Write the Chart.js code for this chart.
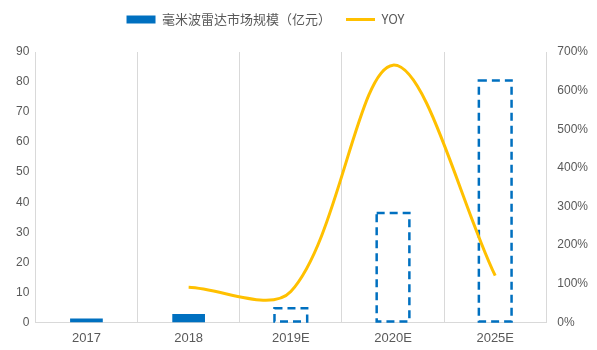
<!DOCTYPE html>
<html>
<head>
<meta charset="utf-8">
<script src="https://cdn.jsdelivr.net/npm/chart.js@4/dist/chart.umd.min.js"></script>
<style>
  html, body { margin: 0; padding: 0; background: #fff; }
  #wrap { width: 597px; height: 350px; }
</style>
</head>
<body>
<div id="wrap"><canvas id="radarChart"></canvas></div>
<script>
// Data
const years = ['2017', '2018', '2019E', '2020E', '2025E'];
const marketSize = [1.3, 2.8, 4.7, 36.4, 80.5];        // 亿元
const yoy = [null, 91, 80, 666, 121];                    // %
const estimated = [false, false, true, true, true];     // dashed bars

const BLUE = '#0070C0';
const GOLD = '#FFC000';
const TEXT = '#595959';
const GRID = '#d9d9d9';
const NUM_FONT = '"Liberation Sans", Arial, sans-serif';

// Estimated bars get a dashed outline instead of a fill
const dashedBars = {
  id: 'dashedBars',
  afterDatasetDraw(chart, args) {
    if (args.index !== 0) return;
    const ctx = chart.ctx;
    const meta = chart.getDatasetMeta(0);
    ctx.save();
    ctx.strokeStyle = BLUE;
    ctx.lineWidth = 2.5;
    ctx.setLineDash([8, 5]);
    meta.data.forEach((bar, i) => {
      if (!estimated[i]) return;
      const p = bar.getProps(['x', 'y', 'base', 'width'], true);
      const l = p.x - p.width / 2;
      ctx.strokeRect(l, p.y, p.width, p.base - p.y - 1);
    });
    ctx.restore();
  }
};

// Legend: extra room below it, and shifted a bit left of centre
const legendSpacing = {
  id: 'legendSpacing',
  beforeInit(chart) {
    const fit = chart.legend.fit;
    chart.legend.fit = function () {
      fit.bind(chart.legend)();
      this.height += 16;
    };
  },
  afterLayout(chart) {
    chart.legend.left -= 39;
    chart.legend.right -= 39;
  }
};

const ctx = document.getElementById('radarChart').getContext('2d');
new Chart(ctx, {
  data: {
    labels: years,
    datasets: [
      {
        type: 'bar',
        label: '毫米波雷达市场规模（亿元）',
        data: marketSize,
        yAxisID: 'y',
        backgroundColor: estimated.map(e => e ? 'rgba(255,255,255,0)' : BLUE),
        borderWidth: 0,
        barPercentage: 0.32,
        categoryPercentage: 1,
        order: 2
      },
      {
        type: 'line',
        label: 'YOY',
        data: yoy,
        yAxisID: 'y1',
        borderColor: GOLD,
        borderWidth: 3,
        pointRadius: 0,
        tension: 0.33,
        fill: false,
        order: 1
      }
    ]
  },
  options: {
    responsive: true,
    maintainAspectRatio: false,
    animation: false,
    layout: { padding: { top: -2, left: 10, right: -2, bottom: -4 } },
    plugins: {
      tooltip: { enabled: false },
      legend: {
        position: 'top',
        labels: {
          color: TEXT,
          font: { size: 13, family: '"Noto Sans CJK SC", "Liberation Sans", sans-serif' },
          usePointStyle: true,
          pointStyleWidth: 29,
          boxHeight: 8,
          padding: 15,
          generateLabels: () => [
            { text: '毫米波雷达市场规模（亿元）', fillStyle: BLUE, strokeStyle: BLUE, lineWidth: 0, pointStyle: 'rect', fontColor: TEXT, datasetIndex: 0 },
            { text: 'YOY', fillStyle: GOLD, strokeStyle: GOLD, lineWidth: 3, pointStyle: 'line', fontColor: TEXT, datasetIndex: 1 }
          ]
        }
      }
    },
    scales: {
      x: {
        offset: true,
        grid: { display: true, color: GRID, offset: true, drawTicks: false },
        border: { display: true, color: GRID },
        ticks: { color: TEXT, font: { size: 13, family: NUM_FONT }, padding: 8 }
      },
      y: {
        position: 'left',
        min: 0,
        max: 90,
        ticks: { stepSize: 10, color: TEXT, font: { size: 12, family: NUM_FONT }, padding: 6 },
        grid: { display: false, drawTicks: false },
        border: { display: true, color: GRID }
      },
      y1: {
        position: 'right',
        min: 0,
        max: 700,
        ticks: { stepSize: 100, color: TEXT, font: { size: 12, family: NUM_FONT }, padding: 11, callback: v => v + '%' },
        grid: { display: false, drawTicks: false },
        border: { display: true, color: GRID }
      }
    }
  },
  plugins: [dashedBars, legendSpacing]
});
</script>
</body>
</html>
